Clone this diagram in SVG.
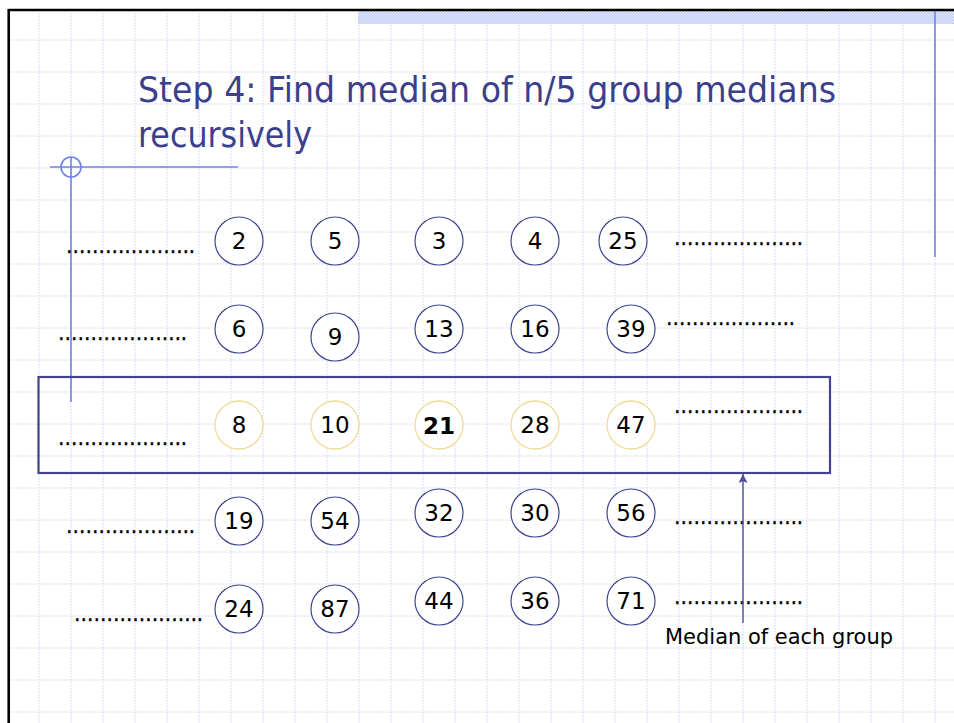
<svg xmlns="http://www.w3.org/2000/svg" width="954" height="723" viewBox="0 0 954 723">
  <defs>
    <style>
      .grid line { stroke: #cad3f5; stroke-width: 1; stroke-dasharray: 1.5 1.5; }
      .guide { stroke: #6e82e6; stroke-width: 1.6; fill: none; }
      .node circle { fill: #ffffff; stroke: #40448f; stroke-width: 1.2; }
      .node.median circle { stroke: #f0db98; stroke-width: 1.3; }
      .node text { font-family: "DejaVu Sans", Verdana, sans-serif; font-size: 23px; fill: #000000; text-anchor: middle; }
      .node.pivot text { font-weight: bold; }
      .dots { font-family: "DejaVu Sans", Verdana, sans-serif; font-size: 23px; fill: #000000; stroke: #000000; stroke-width: 0.4; }
      .title { font-family: "DejaVu Sans", Verdana, sans-serif; font-size: 35px; fill: #3b3f8c; }
      .label { font-family: "DejaVu Sans", Verdana, sans-serif; font-size: 22px; fill: #000000; }
    </style>
    <pattern id="checker" width="3" height="3" patternUnits="userSpaceOnUse">
      <rect width="3" height="3" fill="#e4eafc"/>
      <rect width="1.5" height="1.5" fill="#bccbf6"/>
      <rect x="1.5" y="1.5" width="1.5" height="1.5" fill="#bccbf6"/>
    </pattern>
    <marker id="arrowhead" viewBox="0 0 10 10" refX="10" refY="5" markerWidth="9" markerHeight="9" markerUnits="userSpaceOnUse" orient="auto">
      <path d="M0,0 L10,5 L0,10 L2,5 Z" fill="#4a4f9a"/>
    </marker>
  </defs>

  <rect width="954" height="723" fill="#ffffff"/>

  <!-- background grid -->
  <g class="grid">
    <line x1="39" y1="10" x2="39" y2="723"/>
    <line x1="71" y1="10" x2="71" y2="723"/>
    <line x1="103" y1="10" x2="103" y2="723"/>
    <line x1="135" y1="10" x2="135" y2="723"/>
    <line x1="167" y1="10" x2="167" y2="723"/>
    <line x1="199" y1="10" x2="199" y2="723"/>
    <line x1="231" y1="10" x2="231" y2="723"/>
    <line x1="263" y1="10" x2="263" y2="723"/>
    <line x1="295" y1="10" x2="295" y2="723"/>
    <line x1="327" y1="10" x2="327" y2="723"/>
    <line x1="359" y1="10" x2="359" y2="723"/>
    <line x1="391" y1="10" x2="391" y2="723"/>
    <line x1="423" y1="10" x2="423" y2="723"/>
    <line x1="455" y1="10" x2="455" y2="723"/>
    <line x1="487" y1="10" x2="487" y2="723"/>
    <line x1="519" y1="10" x2="519" y2="723"/>
    <line x1="551" y1="10" x2="551" y2="723"/>
    <line x1="583" y1="10" x2="583" y2="723"/>
    <line x1="615" y1="10" x2="615" y2="723"/>
    <line x1="647" y1="10" x2="647" y2="723"/>
    <line x1="679" y1="10" x2="679" y2="723"/>
    <line x1="711" y1="10" x2="711" y2="723"/>
    <line x1="743" y1="10" x2="743" y2="723"/>
    <line x1="775" y1="10" x2="775" y2="723"/>
    <line x1="807" y1="10" x2="807" y2="723"/>
    <line x1="839" y1="10" x2="839" y2="723"/>
    <line x1="871" y1="10" x2="871" y2="723"/>
    <line x1="903" y1="10" x2="903" y2="723"/>
    <line x1="935" y1="10" x2="935" y2="723"/>
    <line x1="10" y1="40" x2="954" y2="40"/>
    <line x1="10" y1="72" x2="954" y2="72"/>
    <line x1="10" y1="104" x2="954" y2="104"/>
    <line x1="10" y1="136" x2="954" y2="136"/>
    <line x1="10" y1="168" x2="954" y2="168"/>
    <line x1="10" y1="200" x2="954" y2="200"/>
    <line x1="10" y1="232" x2="954" y2="232"/>
    <line x1="10" y1="264" x2="954" y2="264"/>
    <line x1="10" y1="296" x2="954" y2="296"/>
    <line x1="10" y1="328" x2="954" y2="328"/>
    <line x1="10" y1="360" x2="954" y2="360"/>
    <line x1="10" y1="392" x2="954" y2="392"/>
    <line x1="10" y1="424" x2="954" y2="424"/>
    <line x1="10" y1="456" x2="954" y2="456"/>
    <line x1="10" y1="488" x2="954" y2="488"/>
    <line x1="10" y1="520" x2="954" y2="520"/>
    <line x1="10" y1="552" x2="954" y2="552"/>
    <line x1="10" y1="584" x2="954" y2="584"/>
    <line x1="10" y1="616" x2="954" y2="616"/>
    <line x1="10" y1="648" x2="954" y2="648"/>
    <line x1="10" y1="680" x2="954" y2="680"/>
    <line x1="10" y1="712" x2="954" y2="712"/>
  </g>

  <!-- slide frame and decoration -->
  <g id="frame">
    <rect x="358" y="11" width="596" height="13" fill="url(#checker)"/>
    <line x1="8.5" y1="10" x2="954" y2="10" stroke="#000000" stroke-width="2.5"/>
    <line x1="8.7" y1="9" x2="8.7" y2="723" stroke="#000000" stroke-width="2.6"/>
    <line class="guide" x1="935" y1="11" x2="935" y2="257"/>
    <line class="guide" x1="50" y1="167" x2="238" y2="167"/>
    <line class="guide" x1="71" y1="157" x2="71" y2="402"/>
    <circle class="guide" cx="71" cy="167" r="10" stroke-width="1.2"/>
  </g>

  <g id="title">
    <text class="title" x="138" y="102" textLength="698" lengthAdjust="spacingAndGlyphs">Step 4: Find median of n/5 group medians</text>
    <text class="title" x="138" y="147" textLength="174" lengthAdjust="spacingAndGlyphs">recursively</text>
  </g>

  <!-- highlight around the row of group medians -->
  <rect id="median-row" x="38.5" y="377" width="791.5" height="96" fill="none" stroke="#40448f" stroke-width="2.2"/>

  <!-- row 1 -->
  <g id="n2" class="node"><circle cx="239" cy="241" r="24"/><text x="239" y="249">2</text></g>
  <g id="n5" class="node"><circle cx="335" cy="241" r="24"/><text x="335" y="249">5</text></g>
  <g id="n3" class="node"><circle cx="439" cy="241" r="24"/><text x="439" y="249">3</text></g>
  <g id="n4" class="node"><circle cx="535" cy="241" r="24"/><text x="535" y="249">4</text></g>
  <g id="n25" class="node"><circle cx="623" cy="241" r="24"/><text x="623" y="249">25</text></g>

  <!-- row 2 -->
  <g id="n6" class="node"><circle cx="239" cy="329" r="24"/><text x="239" y="337">6</text></g>
  <g id="n9" class="node"><circle cx="335" cy="337" r="24"/><text x="335" y="345">9</text></g>
  <g id="n13" class="node"><circle cx="439" cy="329" r="24"/><text x="439" y="337">13</text></g>
  <g id="n16" class="node"><circle cx="535" cy="329" r="24"/><text x="535" y="337">16</text></g>
  <g id="n39" class="node"><circle cx="631" cy="329" r="24"/><text x="631" y="337">39</text></g>

  <!-- row 3: medians -->
  <g id="n8" class="node median"><circle cx="239" cy="425" r="24"/><text x="239" y="433">8</text></g>
  <g id="n10" class="node median"><circle cx="335" cy="425" r="24"/><text x="335" y="433">10</text></g>
  <g id="n21" class="node median pivot"><circle cx="439" cy="425" r="24"/><text x="439" y="434">21</text></g>
  <g id="n28" class="node median"><circle cx="535" cy="425" r="24"/><text x="535" y="433">28</text></g>
  <g id="n47" class="node median"><circle cx="631" cy="425" r="24"/><text x="631" y="433">47</text></g>

  <!-- row 4 -->
  <g id="n19" class="node"><circle cx="239" cy="521" r="24"/><text x="239" y="529">19</text></g>
  <g id="n54" class="node"><circle cx="335" cy="521" r="24"/><text x="335" y="529">54</text></g>
  <g id="n32" class="node"><circle cx="439" cy="513" r="24"/><text x="439" y="521">32</text></g>
  <g id="n30" class="node"><circle cx="535" cy="513" r="24"/><text x="535" y="521">30</text></g>
  <g id="n56" class="node"><circle cx="631" cy="513" r="24"/><text x="631" y="521">56</text></g>

  <!-- row 5 -->
  <g id="n24" class="node"><circle cx="239" cy="609" r="24"/><text x="239" y="617">24</text></g>
  <g id="n87" class="node"><circle cx="335" cy="609" r="24"/><text x="335" y="617">87</text></g>
  <g id="n44" class="node"><circle cx="439" cy="601" r="24"/><text x="439" y="609">44</text></g>
  <g id="n36" class="node"><circle cx="535" cy="601" r="24"/><text x="535" y="609">36</text></g>
  <g id="n71" class="node"><circle cx="631" cy="601" r="24"/><text x="631" y="609">71</text></g>

  <!-- continuation dots on each side of the rows -->
  <g id="ellipses">
    <text class="dots" x="66" y="253" textLength="129" lengthAdjust="spacingAndGlyphs">………………..</text>
    <text class="dots" x="58" y="340" textLength="129" lengthAdjust="spacingAndGlyphs">………………..</text>
    <text class="dots" x="58" y="445" textLength="129" lengthAdjust="spacingAndGlyphs">………………..</text>
    <text class="dots" x="66" y="533" textLength="129" lengthAdjust="spacingAndGlyphs">………………..</text>
    <text class="dots" x="74" y="621" textLength="129" lengthAdjust="spacingAndGlyphs">………………..</text>
    <text class="dots" x="674" y="245" textLength="129" lengthAdjust="spacingAndGlyphs">………………..</text>
    <text class="dots" x="666" y="325" textLength="129" lengthAdjust="spacingAndGlyphs">………………..</text>
    <text class="dots" x="674" y="413" textLength="129" lengthAdjust="spacingAndGlyphs">………………..</text>
    <text class="dots" x="674" y="524" textLength="129" lengthAdjust="spacingAndGlyphs">………………..</text>
    <text class="dots" x="674" y="604" textLength="129" lengthAdjust="spacingAndGlyphs">………………..</text>
  </g>

  <!-- annotation arrow -->
  <g id="connectors">
    <line x1="743" y1="623" x2="743" y2="474" stroke="#4a4f9a" stroke-width="1.4" marker-end="url(#arrowhead)"/>
  </g>
  <g id="annotation">
    <text class="label" x="665" y="644" textLength="228" lengthAdjust="spacingAndGlyphs">Median of each group</text>
  </g>
</svg>
